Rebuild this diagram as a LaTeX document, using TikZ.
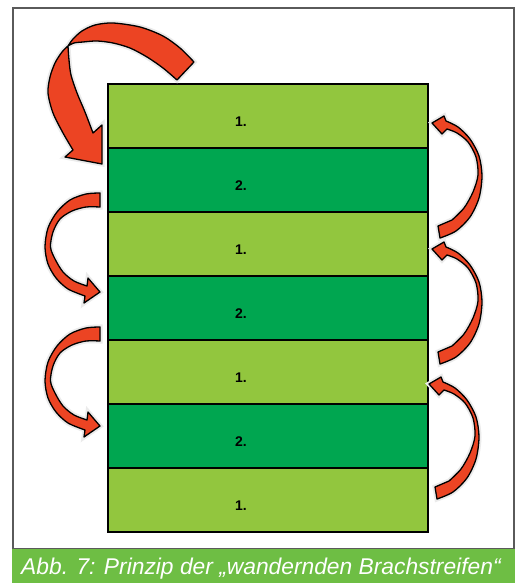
\documentclass[tikz,border=0pt]{standalone}
\usepackage{fontspec}
\setmainfont{Liberation Sans}
\definecolor{lightg}{RGB}{146,198,62}
\definecolor{darkg}{RGB}{0,166,80}
\definecolor{capg}{RGB}{110,190,68}
\definecolor{arrowred}{RGB}{236,68,35}
\definecolor{framegray}{RGB}{90,90,90}
\begin{document}
\begin{tikzpicture}[x=1pt,y=-1pt,
  stripe/.style={draw=black, line width=2pt, minimum width=320pt, minimum height=64pt, inner sep=0pt, outer sep=0pt},
  lab/.style={font=\bfseries\fontsize{14}{14}\selectfont, anchor=base, inner sep=0pt},
  redarrow/.style={fill=arrowred, draw=black, line width=1.3pt, line join=round, preaction={draw=black!8, line width=5pt}},
  rarrow/.pic={\filldraw[redarrow] (432,123) -- (444,116) -- plot[smooth] coordinates {(446,121) (458,127) (470,139) (479,156) (482,176) (479,198) (470,217) (456,231) (440,238)} -- (438,226) -- plot[smooth] coordinates {(452,220) (464,208) (473,192) (478,175) (476,157) (468,142) (457,133) (447,129)} -- (442,134) -- cycle;},
  larrow/.pic={\filldraw[redarrow] plot[smooth] coordinates {(100,193) (86,194) (70,200) (57,212) (48,228) (45,247) (48,264) (56,278) (68,289) (85,296)} -- (84,303) -- (100,292) -- (88,278) -- plot[smooth] coordinates {(87,286) (74,281) (63,272) (55,259) (50.5,247) (53,232) (60,219) (72,211) (86,207) (100,207)} -- cycle;}
]
\useasboundingbox (0,0) rectangle (520,583);
\fill[white] (0,0) rectangle (520,583);
% frame and caption band
\draw[framegray, line width=1.3pt] (13,8) rectangle (514,549);
\fill[capg] (12,549) rectangle (515,583);
\node[anchor=base west, inner sep=0pt, text=white, font=\itshape\fontsize{22.8}{22.8}\selectfont] (cap) at (21,574) {Abb. 7: Prinzip der „wandernden Brachstreifen“};
% stripes
\node[stripe, fill=lightg] (s1) at (268,116) {};
\node[stripe, fill=darkg]  (s2) at (268,180) {};
\node[stripe, fill=lightg] (s3) at (268,244) {};
\node[stripe, fill=darkg]  (s4) at (268,308) {};
\node[stripe, fill=lightg] (s5) at (268,372) {};
\node[stripe, fill=darkg]  (s6) at (268,436) {};
\node[stripe, fill=lightg] (s7) at (268,500) {};
\node[lab] (l1) at (241,126.5) {1.};
\node[lab] (l2) at (241,190.5) {2.};
\node[lab] (l3) at (241,254.5) {1.};
\node[lab] (l4) at (241,318.5) {2.};
\node[lab] (l5) at (241,382.5) {1.};
\node[lab] (l6) at (241,446.5) {2.};
\node[lab] (l7) at (241,510.5) {1.};
% big arrow
\filldraw[redarrow] (177,80) -- (194,62)
  -- plot[smooth] coordinates {(194,62) (180,48) (163,36) (140,27) (113,23) (95,25) (82,31) (73,39) (68,46)}
  -- plot[smooth] coordinates {(68,46) (62,52) (55,63) (50,77) (48,93) (53,113) (63,133) (73,150)}
  -- (65,157) -- (102,164) -- (102,125)
  -- plot[smooth] coordinates {(93,133) (85,112) (77,93) (71,75) (69,60) (68,46)}
  -- plot[smooth] coordinates {(68,46) (74,43) (83,42) (97,41) (113,43) (130,48) (147,57) (163,68) (177,80)}
  -- cycle;
% small arrows
\pic at (0,0) {rarrow};
\pic at (0,126) {rarrow};
\pic at (-3,261) {rarrow};
\pic at (0,0) {larrow};
\pic at (0,134) {larrow};
\end{tikzpicture}
\end{document}
